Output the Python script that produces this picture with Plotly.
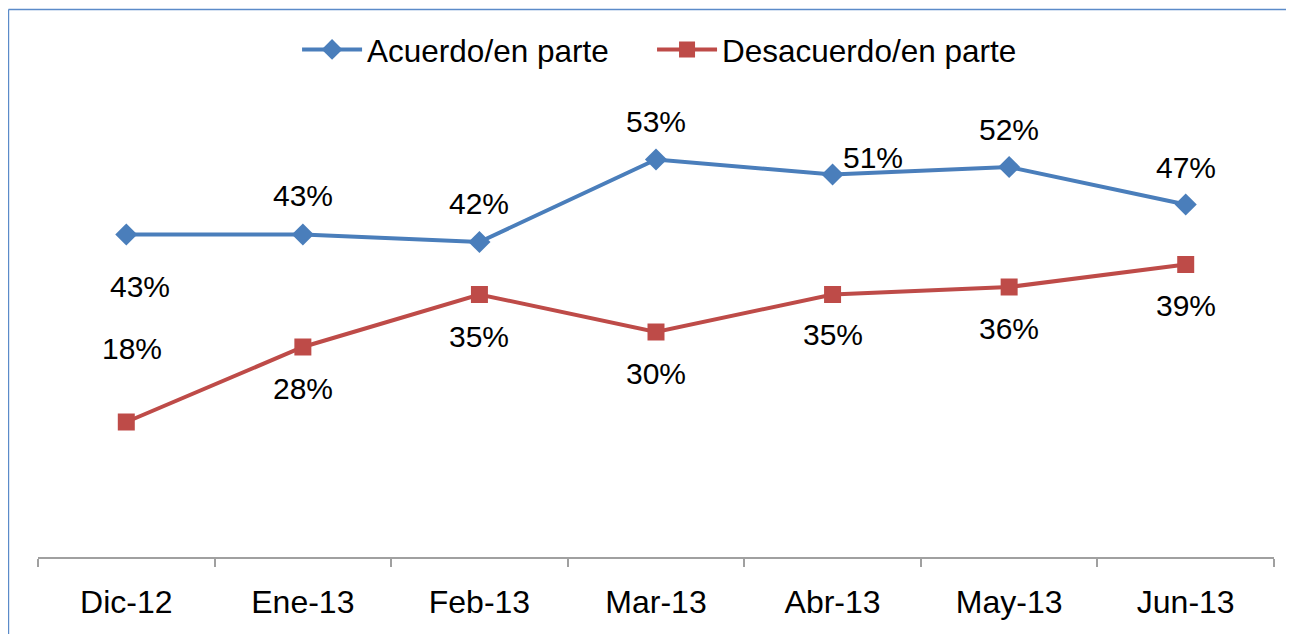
import plotly.graph_objects as go

categories = ["Dic-12", "Ene-13", "Feb-13", "Mar-13", "Abr-13", "May-13", "Jun-13"]
acuerdo = [43, 43, 42, 53, 51, 52, 47]
desacuerdo = [18, 28, 35, 30, 35, 36, 39]
name_a = "Acuerdo/en parte"
name_d = "Desacuerdo/en parte"

# label offsets (pixels) per point: (xshift, yshift)
off_a = [(14, -52), (0, 39), (0, 39), (0, 38), (40, 17), (0, 38), (0, 37)]
off_d = [(6, 74), (0, -41), (0, -42), (0, -41), (0, -40), (0, -41), (0, -41)]

BLUE = "#4A7EBB"
RED = "#BE4B48"
FONT = "Liberation Sans, Arial, sans-serif"

fig = go.Figure()
fig.add_trace(go.Scatter(
    x=categories, y=acuerdo, name=name_a, mode="lines+markers",
    line=dict(color=BLUE, width=4),
    marker=dict(symbol="diamond", size=17, color=BLUE),
    legend="legend",
))
fig.add_trace(go.Scatter(
    x=categories, y=desacuerdo, name=name_d, mode="lines+markers",
    line=dict(color=RED, width=4),
    marker=dict(symbol="square", size=17, color=RED),
    legend="legend2",
))

annotations = []
for series, offs in ((acuerdo, off_a), (desacuerdo, off_d)):
    for c, v, (dx, dy) in zip(categories, series, offs):
        annotations.append(dict(
            x=c, y=v, text=f"{v}%", showarrow=False,
            xshift=dx, yshift=dy,
            font=dict(family=FONT, size=30, color="#000000"),
        ))

legend_common = dict(
    orientation="h", yanchor="middle", y=1.128, xanchor="left",
    font=dict(family=FONT, size=31.5, color="#000000"),
    itemwidth=60, bgcolor="rgba(0,0,0,0)",
)

# page has an 8px body margin; plot area on page: x 38..1274, y 107..557
fig.update_layout(
    width=1286, height=626,
    margin=dict(l=30, r=20, t=99, b=77),
    paper_bgcolor="white", plot_bgcolor="white",
    showlegend=True,
    legend=dict(x=0.2096, **legend_common),
    legend2=dict(x=0.4968, **legend_common),
    annotations=annotations,
    xaxis=dict(
        type="category", range=[-0.5, 6.5],
        showline=True, linecolor="#A0A0A0", linewidth=2,
        ticks="outside", tickson="boundaries", ticklen=8, tickwidth=1.5,
        tickcolor="#A0A0A0", showgrid=False, zeroline=False,
        tickfont=dict(family=FONT, size=32, color="#000000"),
        ticklabelstandoff=16,
    ),
    yaxis=dict(
        range=[0, 60], visible=False, showgrid=False, zeroline=False,
    ),
    shapes=[
        dict(type="line", xref="paper", yref="paper",
             x0=-0.0239, x1=1.03, y0=1.2167, y1=1.2167,
             line=dict(color="#5B8BC9", width=1.5)),
        dict(type="line", xref="paper", yref="paper",
             x0=-0.0239, x1=-0.0239, y0=1.2167, y1=-0.25,
             line=dict(color="#5B8BC9", width=1.5)),
    ],
)

fig.write_html("out.html")
